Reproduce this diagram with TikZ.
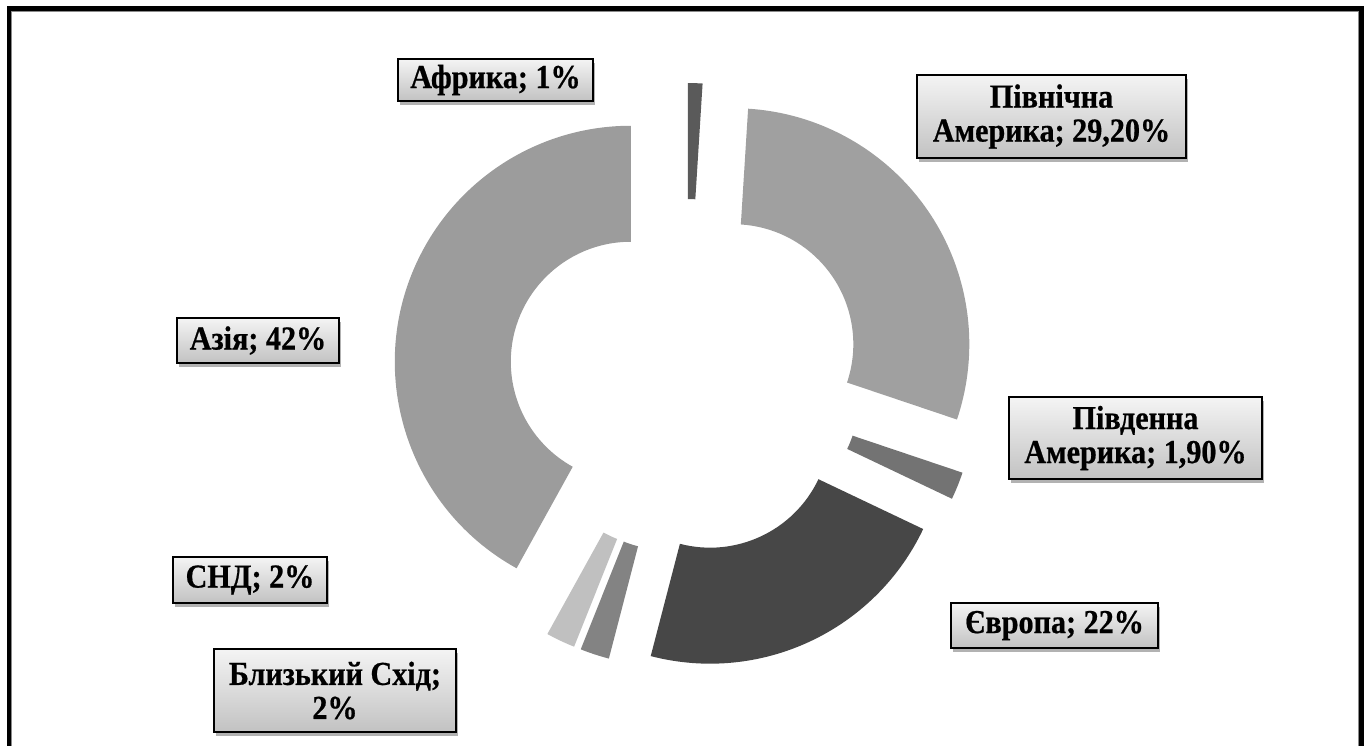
\documentclass[tikz,border=0pt]{standalone}
\usepackage{fontspec}
\setmainfont{Liberation Serif}[FakeStretch=0.9, BoldFeatures={FakeBold=0.6}]
\usetikzlibrary{shadows,calc}
\definecolor{cAfr}{HTML}{5A5A5A}
\definecolor{cNA}{HTML}{A0A0A0}
\definecolor{cSA}{HTML}{737373}
\definecolor{cEur}{HTML}{474747}
\definecolor{cNE}{HTML}{838383}
\definecolor{cCIS}{HTML}{C0C0C0}
\definecolor{cAsia}{HTML}{9C9C9C}
\definecolor{lblTop}{HTML}{F4F4F4}
\definecolor{lblBot}{HTML}{C2C2C2}
\definecolor{frameGray}{HTML}{8A8A8A}
% #1 name, #2 colour, #3 clockwise start angle, #4 clockwise end angle
\newcommand\donutpiece[4]{%
  \pgfmathsetmacro\dpSa{90-#3}%
  \pgfmathsetmacro\dpEa{90-#4}%
  \pgfmathsetmacro\dpMa{(\dpSa+\dpEa)/2}%
  \begin{scope}[shift={(\dpMa:57pt)}]
    \fill[#2] (\dpSa:236pt) arc[start angle=\dpSa, end angle=\dpEa, radius=236pt]
      -- (\dpEa:120pt) arc[start angle=\dpEa, end angle=\dpSa, radius=120pt] -- cycle;
    \coordinate (#1) at (\dpMa:178pt);
  \end{scope}}
\begin{document}
\begin{tikzpicture}[x=1pt,y=1pt,
  lbl/.style={draw=black, line width=1.3pt, top color=lblTop, bottom color=lblBot,
    drop shadow={shadow xshift=1.5pt, shadow yshift=-4pt, opacity=0.3, fill=black},
    font=\fontsize{33.5}{34}\selectfont\bfseries, align=center, inner sep=0pt, text=black}]
\useasboundingbox (0,0) rectangle (1370,-745);
\clip (0,0) rectangle (1370,-745);
% frame
\draw[line width=4.5pt, black] (9,-8.5) rectangle (1361.5,-800);
\draw[line width=1pt, frameGray] (11.8,-11.2) rectangle (1358.7,-800);
% donut
\begin{scope}[shift={(686,-376)}]
  \donutpiece{sAfr}{cAfr}{0}{3.596}
  \donutpiece{sNA}{cNA}{3.596}{108.61}
  \donutpiece{sSA}{cSA}{108.61}{115.44}
  \donutpiece{sEur}{cEur}{115.44}{194.57}
  \donutpiece{sNE}{cNE}{194.57}{201.76}
  \donutpiece{sCIS}{cCIS}{201.76}{208.95}
  \donutpiece{sAsia}{cAsia}{208.95}{360}
\end{scope}
% labels
\node[lbl, minimum width=195pt, minimum height=42pt] (lAfr) at (495.5,-80) {Африка; 1\%};
\node[lbl, minimum width=269pt, minimum height=83pt] (lNA) at (1051.5,-116.5) {Північна\\Америка; 29,20\%};
\node[lbl, minimum width=253pt, minimum height=82pt] (lSA) at (1135.5,-438) {Південна\\Америка; 1,90\%};
\node[lbl, minimum width=162pt, minimum height=45pt] (lAsia) at (258,-340.5) {Азія; 42\%};
\node[lbl, minimum width=154pt, minimum height=46pt] (lCIS) at (250,-580) {СНД; 2\%};
\node[lbl, minimum width=242pt, minimum height=83pt] (lNE) at (335,-690.5) {Близький Схід;\\2\%};
\node[lbl, minimum width=207pt, minimum height=45pt] (lEur) at (1054.5,-625.5) {Європа; 22\%};
\end{tikzpicture}
\end{document}
